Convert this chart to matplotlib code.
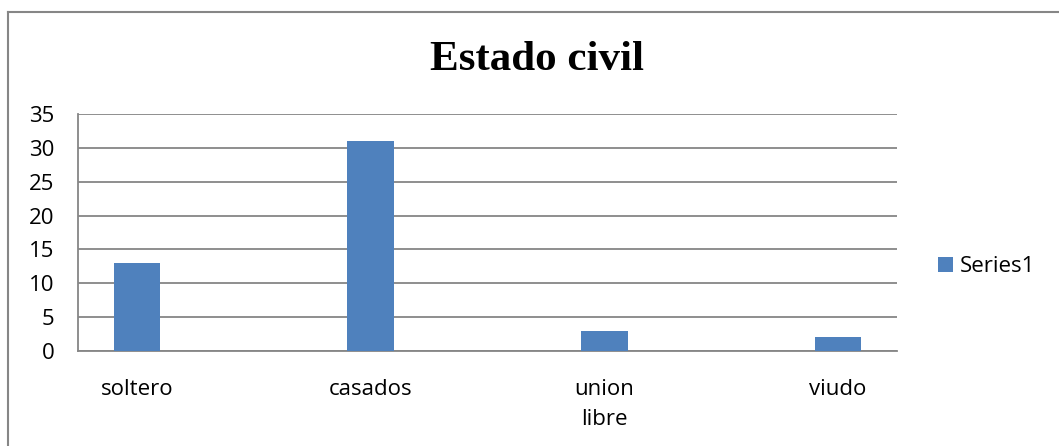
import matplotlib.pyplot as plt
from matplotlib.lines import Line2D

categories = ['soltero', 'casados', 'union\nlibre', 'viudo']
values = [13, 31, 3, 2]
yticks = [0, 5, 10, 15, 20, 25, 30, 35]

plt.rcParams['font.family'] = ['Open Sans', 'DejaVu Sans']

fig = plt.figure(figsize=(10.59, 4.46), dpi=100)
ax = fig.add_axes([78 / 1059, 1 - 351 / 446, (897 - 78) / 1059, (351 - 114) / 446])

x = range(len(categories))
ax.bar(x, values, width=0.2, color='#4F81BD', label='Series1', zorder=3)

ax.set_xlim(-0.2525, 3.2525)
ax.set_ylim(0, 35)
ax.set_yticks(yticks)
ax.set_xticks(list(x))
ax.set_xticklabels(categories, fontsize=16, linespacing=1.55)
ax.tick_params(axis='y', length=0, pad=17, labelsize=16)
ax.tick_params(axis='x', length=0, pad=20)

ax.grid(axis='y', color='#868686', linewidth=1.3, zorder=0)
for s in ['top', 'right']:
    ax.spines[s].set_visible(False)
for s in ['left', 'bottom']:
    ax.spines[s].set_color('#868686')
    ax.spines[s].set_linewidth(1.3)

fig.text(537 / 1059, 1 - 60 / 446, 'Estado civil', ha='center', va='center',
         fontsize=31, fontweight='bold', family='Liberation Serif')

ax.legend(loc='center left', bbox_to_anchor=(1.026, 0.355), frameon=False,
          fontsize=16, handlelength=0.65, handleheight=0.65, handletextpad=0.3)

# outer chart border
fig.add_artist(Line2D([8 / 1059, 1.0], [1 - 12 / 446, 1 - 12 / 446], color='#868686', linewidth=1.5))
fig.add_artist(Line2D([8 / 1059, 8 / 1059], [0, 1 - 12 / 446], color='#868686', linewidth=1.5))

fig.savefig('out.png', dpi=100)
